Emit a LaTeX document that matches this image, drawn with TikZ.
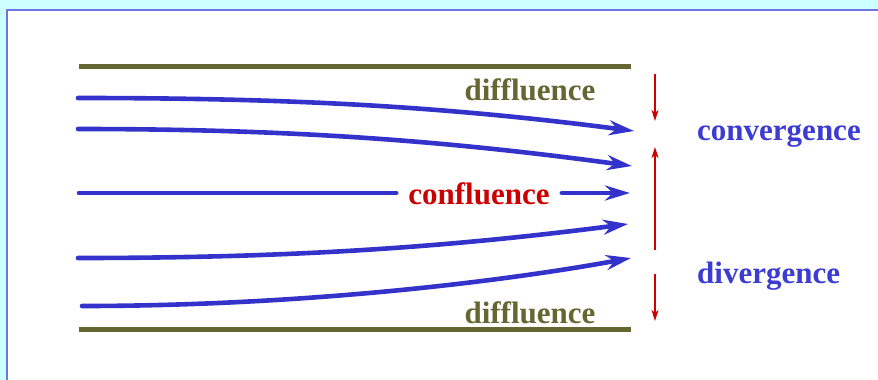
\documentclass[tikz,border=0pt]{standalone}
\usepackage{fontspec}
\setmainfont{Liberation Serif}
\usetikzlibrary{arrows.meta}
\definecolor{flowblue}{RGB}{51,51,204}
\definecolor{textblue}{RGB}{60,60,210}
\definecolor{wallolive}{RGB}{102,102,51}
\definecolor{markred}{RGB}{204,0,0}
\definecolor{pagecyan}{RGB}{204,255,255}
\definecolor{framelilac}{RGB}{115,115,224}
\tikzset{
  flow/.style={draw=flowblue, line width=4.6pt, line cap=round,
    -{Stealth[length=25pt,width=15pt,inset=8pt]}},
  plainflow/.style={draw=flowblue, line width=4.6pt, line cap=round},
  wall/.style={draw=wallolive, line width=5pt},
  marker/.style={draw=markred, line width=1.8pt,
    -{Stealth[length=11pt,width=7pt,inset=3pt]}},
  lbl/.style={font=\fontsize{31}{31}\selectfont\bfseries, inner sep=0pt},
}
\begin{document}
\begin{tikzpicture}[x=1pt,y=-1pt]
  \useasboundingbox (0,0) rectangle (878,380);
  \clip (0,0) rectangle (878,380);
  % page background and white panel
  \fill[pagecyan] (0,0) rectangle (878,380);
  \draw[framelilac, line width=2pt, fill=white] (7,10) rectangle (900,400);

  % channel walls
  \coordinate (w1a) at (79,66);  \coordinate (w1b) at (631,66);
  \coordinate (w2a) at (79,329); \coordinate (w2b) at (631,329);
  \draw[wall] (w1a) -- (w1b);
  \draw[wall] (w2a) -- (w2b);

  % labels
  \node[lbl, text=wallolive, anchor=base] (dtop) at (530,100) {diffluence};
  \node[lbl, text=wallolive, anchor=base] (dbot) at (530,323) {diffluence};
  \node[lbl, text=textblue, anchor=base west] (conv) at (697,140) {convergence};
  \node[lbl, text=textblue, anchor=base west] (div) at (697,283) {divergence};
  \node[lbl, text=markred, anchor=center, inner xsep=12pt,
        text height=22pt, text depth=0pt] (conf) at (479,193) {confluence};

  % streamlines
  \coordinate (s1) at (78,98);   \coordinate (t1) at (634,131);
  \coordinate (s2) at (78,129);  \coordinate (t2) at (632,166);
  \coordinate (s3) at (79,193);  \coordinate (t3) at (630,193);
  \coordinate (s4) at (78,258);  \coordinate (t4) at (628,224);
  \coordinate (s5) at (82,306);  \coordinate (t5) at (631,258);

  \draw[flow] (s1) .. controls (278,98) and (434,105) .. (t1);
  \draw[flow] (s2) .. controls (278,129) and (434,139) .. (t2);
  \draw[plainflow] (s3) -- (conf.west);
  \draw[flow] (conf.east) -- (t3);
  \draw[flow] (s4) .. controls (278,258) and (434,249) .. (t4);
  \draw[flow] (s5) .. controls (300,306) and (500,282) .. (t5);

  % convergence / divergence markers
  \coordinate (m1a) at (655,74);  \coordinate (m1b) at (655,121);
  \coordinate (m2a) at (655,250); \coordinate (m2b) at (655,147);
  \coordinate (m3a) at (655,274); \coordinate (m3b) at (655,321);
  \draw[marker] (m1a) -- (m1b);
  \draw[marker] (m2a) -- (m2b);
  \draw[marker] (m3a) -- (m3b);
\end{tikzpicture}
\end{document}
